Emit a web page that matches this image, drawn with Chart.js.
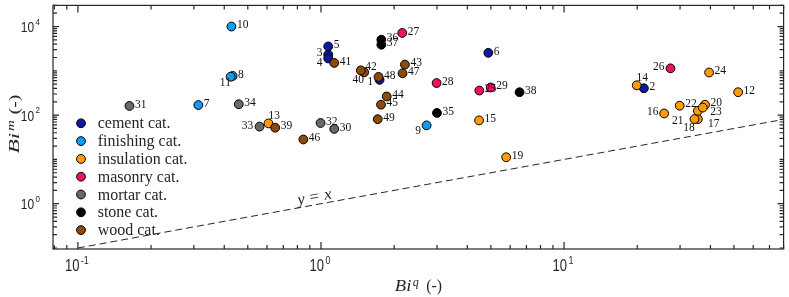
<!DOCTYPE html>
<html>
<head>
<meta charset="utf-8">
<script src="https://cdn.jsdelivr.net/npm/chart.js@4.4.1/dist/chart.umd.min.js"></script>
<style>
  html, body { margin: 0; padding: 0; background: #fff; }
  canvas { display: block; }
</style>
</head>
<body>
<canvas id="bi_canvas" width="789" height="297"></canvas>
<script>
var categories = ['cement cat.', 'finishing cat.', 'insulation cat.', 'masonry cat.', 'mortar cat.', 'stone cat.', 'wood cat.'];
var catColors = ['#0d1aa0', '#129cf5', '#ff9c08', '#f20f66', '#686868', '#050505', '#8c4b0a'];

// material number, Bi^q and Bi^m for each category
var cementId  = [1, 2, 3, 4, 5, 6];
var cementBiq = [1.742, 21.3, 1.071, 1.071, 1.071, 4.88];
var cementBim = [625, 404, 2330, 1905, 3550, 2550];

var finishingId  = [7, 8, 9, 10, 11];
var finishingBiq = [0.313, 0.433, 2.72, 0.428, 0.425];
var finishingBim = [169, 765, 58.7, 10000, 735];

var insulationId  = [12, 13, 14, 15, 16, 17, 18, 19, 20, 21, 22, 23, 24];
var insulationBiq = [52, 0.608, 19.9, 4.47, 25.8, 35.5, 34.4, 5.78, 38.0, 35.5, 29.9, 37.2, 39.5];
var insulationBim = [329, 65, 471, 76, 109, 81.5, 81.5, 11.2, 172, 125, 163, 148, 917];

var masonryId  = [25, 26, 27, 28, 29];
var masonryBiq = [4.48, 27.4, 2.16, 2.99, 4.99];
var masonryBim = [359, 1140, 7170, 530, 421];

var mortarId  = [30, 31, 32, 33, 34];
var mortarBiq = [1.134, 0.163, 0.996, 0.559, 0.459];
var mortarBim = [48.8, 161, 66.4, 55, 176];

var stoneId  = [35, 36, 37, 38];
var stoneBiq = [3.0, 1.771, 1.771, 6.56];
var stoneBim = [112, 5040, 3880, 329];

var woodId  = [39, 40, 41, 42, 43, 44, 45, 46, 47, 48, 49];
var woodBiq = [0.648, 1.505, 1.134, 1.458, 2.215, 1.864, 1.766, 0.846, 2.165, 1.725, 1.712];
var woodBim = [52, 926, 1506, 1026, 1380, 264, 172, 28.2, 880, 728, 81];

var xTicks = [0.1, 1, 10];
var yTicks = [1, 100, 10000];
var xRange = [0.079, 80];
var yRange = [0.095, 30000];
var unityLine = [0.1, 80]; // ends of the y = x line

// label offsets (centre of text from the marker) where the label is not simply on the right
var labelShift = {
  1: [-9.3, 2], 3: [-8.7, -2], 4: [-8.7, 4.3], 9: [-8.4, 5.6], 11: [-5.3, 6.7],
  13: [5.7, -7.4], 14: [5.6, -7.3], 16: [-11.3, -1], 17: [16, 4.7], 18: [-5.4, 8.7],
  21: [-20, 10.3], 23: [13.3, 4.3], 26: [-11.7, -1.7], 33: [-12, -1], 40: [-6, 7.5], 42: [10.3, -3.3]
};

var SERIF = '"Liberation Serif", "DejaVu Serif", serif';
var SANS = '"Liberation Sans", Arial, sans-serif';

function putText(ctx, txt, x, y, font, align, baseline, sx, sy) {
  ctx.save();
  ctx.translate(x, y);
  ctx.scale(sx, sy);
  ctx.font = font;
  ctx.textAlign = align;
  ctx.textBaseline = baseline;
  ctx.fillText(txt, 0, 0);
  ctx.restore();
}

function isMajor(v, list) {
  for (var i = 0; i < list.length; i++) {
    if (Math.abs(v / list[i] - 1) < 1e-6) return true;
  }
  return false;
}

// box, inward ticks and tick labels
var axesBox = {
  id: 'axesBox',
  afterDatasetsDraw: function(chart) {
    var ctx = chart.ctx, a = chart.chartArea;
    var xs = chart.scales.x, ys = chart.scales.y;
    ctx.save();
    ctx.strokeStyle = '#262626';
    ctx.lineWidth = 1.2;
    ctx.strokeRect(a.left, a.top, a.right - a.left, a.bottom - a.top);

    ctx.beginPath();
    for (var d = -2; d <= 1; d++) {
      for (var k = 1; k <= 9; k++) {
        var v = k * Math.pow(10, d);
        if (v < xRange[0] || v > xRange[1]) continue;
        var len = isMajor(v, xTicks) ? 7 : 4;
        var px = xs.getPixelForValue(v);
        ctx.moveTo(px, a.bottom); ctx.lineTo(px, a.bottom - len);
        ctx.moveTo(px, a.top); ctx.lineTo(px, a.top + len);
      }
    }
    for (d = -2; d <= 4; d++) {
      for (k = 1; k <= 9; k++) {
        v = k * Math.pow(10, d);
        if (v < yRange[0] || v > yRange[1]) continue;
        len = isMajor(v, yTicks) ? 6 : 4;
        var py = ys.getPixelForValue(v);
        ctx.moveTo(a.left, py); ctx.lineTo(a.left + len, py);
        ctx.moveTo(a.right, py); ctx.lineTo(a.right - len, py);
      }
    }
    ctx.stroke();

    ctx.fillStyle = '#262626';
    xTicks.forEach(function(v) {
      var px = xs.getPixelForValue(v);
      var ex = String(Math.round(Math.log10(v)));
      ctx.font = '13px ' + SANS;
      var w10 = ctx.measureText('10').width;
      ctx.font = '9px ' + SANS;
      var we = ctx.measureText(ex).width;
      var x0 = px - (w10 + 1.5 + we) / 2 - 1;
      putText(ctx, '10', x0, a.bottom + 18, '13px ' + SANS, 'left', 'middle', 1, 1.2);
      putText(ctx, ex, x0 + w10 + 1.5, a.bottom + 12.5, '9px ' + SANS, 'left', 'middle', 1, 1.2);
    });
    yTicks.forEach(function(v) {
      var py = ys.getPixelForValue(v);
      var ex = String(Math.round(Math.log10(v)));
      ctx.font = '8px ' + SANS;
      var we = ctx.measureText(ex).width;
      var xr = a.left - 13;
      putText(ctx, ex, xr, py - 4.5, '8px ' + SANS, 'right', 'middle', 1, 1.2);
      putText(ctx, '10', xr - we - 1.5, py + 1.7, '12px ' + SANS, 'right', 'middle', 1, 1.2);
    });

    // axis titles
    var cx = (a.left + a.right) / 2;
    ctx.fillStyle = '#262626';
    putText(ctx, 'Bi', cx - 23.5, 291, 'italic 17px ' + SERIF, 'left', 'alphabetic', 1.1, 1);
    putText(ctx, 'q', cx - 5.5, 286, 'italic 12px ' + SERIF, 'left', 'alphabetic', 1, 1);
    putText(ctx, '(-)', cx + 8, 291, '17px ' + SERIF, 'left', 'alphabetic', 0.92, 1);

    var cy = (a.top + a.bottom) / 2 - 3;
    ctx.save();
    ctx.translate(18.5, cy);
    ctx.rotate(-Math.PI / 2);
    ctx.scale(1.25, 0.9);
    putText(ctx, 'Bi', -23.5, 0, 'italic 17px ' + SERIF, 'left', 'alphabetic', 1.1, 1);
    putText(ctx, 'm', -5.5, -5, 'italic 12px ' + SERIF, 'left', 'alphabetic', 1, 1);
    putText(ctx, '(-)', 8, 0, '17px ' + SERIF, 'left', 'alphabetic', 0.92, 1);
    ctx.restore();

    // y = x note along the dashed line
    var lx = xs.getPixelForValue(0.94);
    var ly = ys.getPixelForValue(0.94) - 7.5;
    var ang = Math.atan2(ys.getPixelForValue(1) - ys.getPixelForValue(10), xs.getPixelForValue(10) - xs.getPixelForValue(1));
    ctx.save();
    ctx.translate(lx, ly);
    ctx.rotate(-ang);
    putText(ctx, 'y = x', 0, 0, 'italic 16px ' + SERIF, 'center', 'middle', 1.05, 1);
    ctx.restore();
    ctx.restore();
  }
};

// material numbers beside the markers
var pointNumbers = {
  id: 'pointNumbers',
  afterDatasetsDraw: function(chart) {
    var ctx = chart.ctx;
    ctx.save();
    ctx.fillStyle = '#111';
    ctx.font = '11.5px ' + SERIF;
    ctx.textBaseline = 'middle';
    chart.data.datasets.forEach(function(ds, i) {
      if (ds.type === 'line') return;
      chart.getDatasetMeta(i).data.forEach(function(pt, k) {
        var id = ds.data[k].id;
        var s = labelShift[id];
        if (s) {
          ctx.textAlign = 'center';
          ctx.fillText(String(id), pt.x + s[0], pt.y + s[1]);
        } else {
          ctx.textAlign = 'left';
          ctx.fillText(String(id), pt.x + 5.5, pt.y - 1.3);
        }
      });
    });
    ctx.restore();
  }
};

// legend drawn inside the axes, top left
var catLegend = {
  id: 'catLegend',
  afterDraw: function(chart) {
    var ctx = chart.ctx;
    ctx.save();
    categories.forEach(function(name, i) {
      var y = 123.3 + i * 17.8;
      ctx.beginPath();
      ctx.arc(81, y, 4.4, 0, Math.PI * 2);
      ctx.fillStyle = catColors[i];
      ctx.fill();
      ctx.lineWidth = 1;
      ctx.strokeStyle = '#000';
      ctx.stroke();
      ctx.fillStyle = '#262626';
      putText(ctx, name, 97.7, y + 0.5, '16px ' + SERIF, 'left', 'middle', 1, 1.1);
    });
    ctx.restore();
  }
};

window.onload = function() {
  var groups = [
    [cementId, cementBiq, cementBim],
    [finishingId, finishingBiq, finishingBim],
    [insulationId, insulationBiq, insulationBim],
    [masonryId, masonryBiq, masonryBim],
    [mortarId, mortarBiq, mortarBim],
    [stoneId, stoneBiq, stoneBim],
    [woodId, woodBiq, woodBim]
  ];
  var datasets = groups.map(function(g, i) {
    return {
      label: categories[i],
      data: g[0].map(function(id, k) { return {x: g[1][k], y: g[2][k], id: id}; }),
      backgroundColor: catColors[i],
      borderColor: '#000',
      borderWidth: 1,
      pointRadius: 4.4,
      order: groups.length - i // later categories on top
    };
  });
  datasets.push({
    type: 'line',
    label: 'y = x',
    data: unityLine.map(function(v) { return {x: v, y: v}; }),
    borderColor: '#262626',
    borderWidth: 1,
    borderDash: [7, 4],
    pointRadius: 0,
    showLine: true,
    fill: false,
    order: 50
  });

  var ctx = document.getElementById('bi_canvas').getContext('2d');
  window.bi_chart = new Chart(ctx, {
    type: 'scatter',
    data: { datasets: datasets },
    options: {
      responsive: false,
      animation: false,
      layout: { padding: { left: 53, right: 3, top: 2, bottom: 48 } },
      scales: {
        x: { type: 'logarithmic', min: xRange[0], max: xRange[1], display: false },
        y: { type: 'logarithmic', min: yRange[0], max: yRange[1], display: false }
      },
      plugins: { legend: { display: false }, tooltip: { enabled: false } }
    },
    plugins: [axesBox, pointNumbers, catLegend]
  });
};
</script>
</body>
</html>
